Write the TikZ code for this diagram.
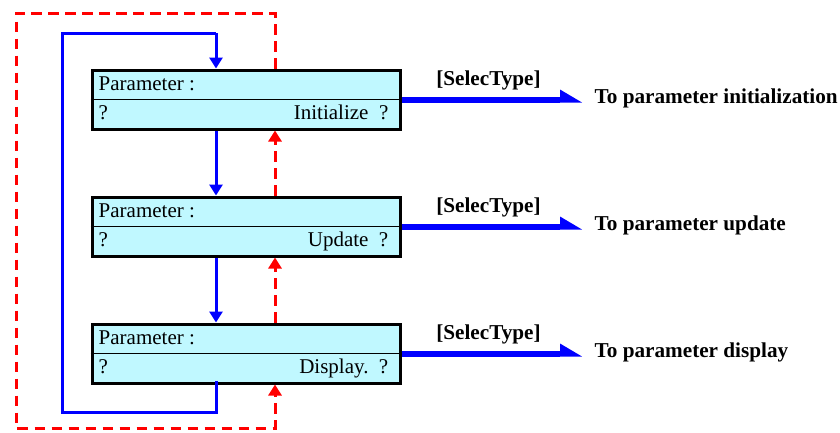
\documentclass[tikz,border=0pt]{standalone}
\usepackage{fontspec}
\setmainfont{Liberation Serif}
\usetikzlibrary{arrows.meta,calc}
\definecolor{boxfill}{RGB}{192,248,255}
\begin{document}
\begin{tikzpicture}[x=1pt,y=-1pt,
  pbox/.style={draw=black,line width=3pt,fill=boxfill,minimum width=308pt,minimum height=59pt,inner sep=0pt},
  txt/.style={inner sep=0pt,font=\fontsize{21}{25}\selectfont},
  btxt/.style={inner sep=0pt,font=\fontsize{21.2}{25}\selectfont\bfseries},
  bl/.style={draw=blue,line width=3pt,-{Triangle[length=11pt,width=13pt]}},
  blp/.style={draw=blue,line width=3pt},
  rd/.style={draw=red,line width=3pt,dash pattern=on 10.5pt off 6.5pt,-{Triangle[length=11pt,width=13pt]}},
  thick blue/.style={draw=blue,line width=6pt}]
\useasboundingbox (0,0) rectangle (840,432);
\foreach \i/\y/\w in {1/99.5/Initialize,2/226.5/Update,3/353.5/Display.}{
  \node[pbox] (b\i) at (246,\y) {};
  \draw[line width=1.3pt] (b\i.west) -- (b\i.east);
  \node[txt,anchor=base west] (p\i) at ($(b\i.west)+(8,-9)$) {Parameter :};
  \node[txt,anchor=base west] (q\i) at ($(b\i.west)+(8,20)$) {?};
  \node[txt,anchor=base east] (w\i) at ($(b\i.east)+(-13,20)$) {\w\ \ ?};
  \coordinate (t\i) at (582,\y+3);
  \coordinate (h\i) at (560,\y);
  \draw[thick blue] (b\i.east) -- (h\i);
  \fill[blue] ($(h\i)+(0,-10)$) -- (t\i) -- ($(h\i)+(0,3)$) -- cycle;
  \node[btxt,anchor=base] (s\i) at ($(b\i.east)+(87,-14)$) {[SelecType]};
}
\node[btxt,anchor=base west] (d1) at ($(b1.east)+(193,4)$) {To parameter initialization};
\node[btxt,anchor=base west] (d2) at ($(b2.east)+(193,4)$) {To parameter update};
\node[btxt,anchor=base west] (d3) at ($(b3.east)+(193,4)$) {To parameter display};
% blue forward arrows
\draw[bl] (b1.south -| 216,0) -- (b2.north -| 216,0);
\draw[bl] (b2.south -| 216,0) -- (b3.north -| 216,0);
\coordinate (bl1) at (216,412);
\coordinate (bl2) at (62,412);
\coordinate (bl3) at (62,33);
\coordinate (bl4) at (216,33);
\draw[blp] (216,381) -- (bl1) -- (bl2) -- (bl3) -- (bl4);
\draw[bl] (bl4) -- (b1.north -| 216,0);
% red backward arrows
\draw[rd] (b2.north -| 275,0) -- (b1.south -| 275,0);
\draw[rd] (b3.north -| 275,0) -- (b2.south -| 275,0);
\coordinate (r1) at (275,13);
\coordinate (r2) at (16,13);
\coordinate (r3) at (16,428);
\coordinate (r4) at (275,428);
\draw[rd] (b1.north -| 275,0) -- (r1) -- (r2) -- (r3) -- (r4) -- (b3.south -| 275,0);
\end{tikzpicture}
\end{document}
